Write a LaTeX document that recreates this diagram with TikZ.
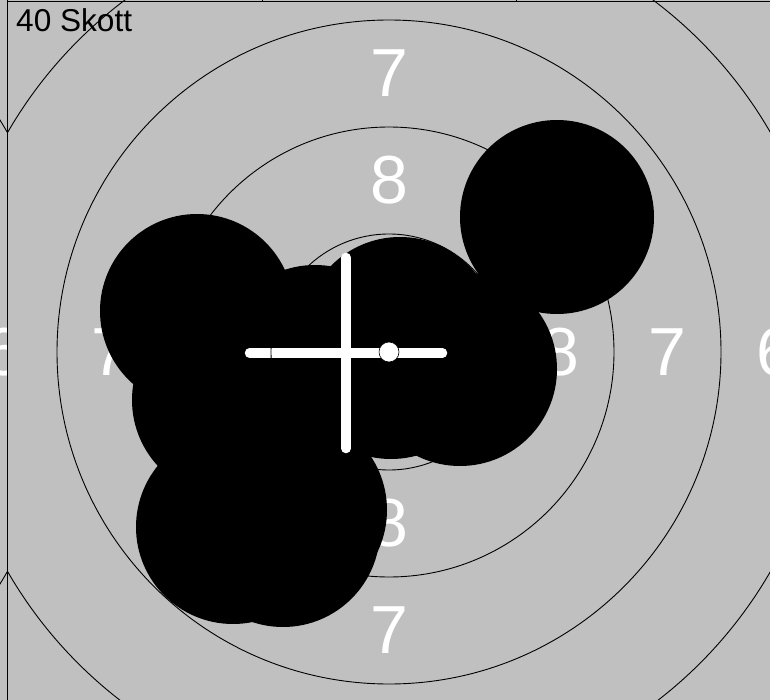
\documentclass[tikz,border=0pt]{standalone}
\usepackage{fontspec}
\setmainfont{Liberation Sans}
\usetikzlibrary{positioning}
\definecolor{targetgray}{HTML}{C0C0C0}

\begin{document}
\begin{tikzpicture}[x=1pt, y=-1pt,
    ringlabel/.style={text=white, inner sep=0pt, font=\fontsize{68}{68}\selectfont},
    ring/.style={draw=black, line width=0.9pt},
    crossbar/.style={draw=white, line width=9.5pt, line cap=round},
    frameline/.style={draw=black, line width=1pt}]
    \useasboundingbox (0,0) rectangle (770,700);
    \fill[targetgray] (0,0) rectangle (770,700);
    \coordinate (centre) at (389,352);
    \coordinate (mirror) at (-374,352);
    \begin{scope}
        \clip (7.5,0) rectangle (770,700);
        % ring numbers
        \foreach \x/\y/\label/\name in {389/73.5/7/t7, 389/180.5/8/t8, 560.5/352/8/r8, 667.5/352/7/r7, 775/352/6/r6, 110.5/352/7/l7, 389/523.5/8/b8, 389/630.5/7/b7}
            \node[ringlabel] (\name) at (\x,\y) {\label};
        % shots
        \foreach \x/\y in {197/311, 229/400, 233/527, 283/530, 290/510, 315/362, 400/334, 391/362, 460/369, 557/217}
            \fill[black] (\x,\y) circle (97pt);
        % mean point
        \coordinate (crossW) at (249.5,353);
        \coordinate (crossE) at (442.5,353);
        \coordinate (crossN) at (346,257.5);
        \coordinate (crossS) at (346,448.5);
        \draw[crossbar] (crossW) -- (crossE);
        \draw[crossbar] (crossN) -- (crossS);
        \foreach \r in {118,225,332,440}
            \draw[ring] (centre) circle (\r pt);
        \filldraw[fill=white, draw=black, line width=0.6pt] (centre) circle (10pt);
    \end{scope}
    \begin{scope}
        \clip (0,0) rectangle (7.5,700);
        \node[ringlabel] (l6) at (3,352) {6};
        \draw[ring] (mirror) circle (440pt);
    \end{scope}
    % frame
    \draw[frameline] (7.5,0) -- (7.5,700);
    \draw[frameline] (7.5,2) -- (770,2);
    \draw[frameline] (262,0) -- (262,2);
    \draw[frameline] (516,0) -- (516,2);
    \node[anchor=base west, inner sep=0pt, font=\fontsize{31.6}{32}\selectfont] (count) at (16,32) {40 Skott};
\end{tikzpicture}
\end{document}
